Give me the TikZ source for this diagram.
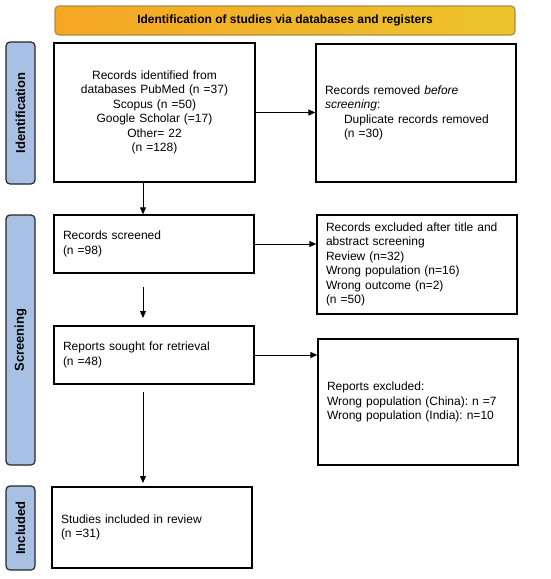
\documentclass[tikz,border=0pt]{standalone}
\usepackage{fontspec}
\setmainfont{Liberation Sans}
\usetikzlibrary{arrows.meta}
\definecolor{bannerL}{HTML}{F6A624}
\definecolor{bannerR}{HTML}{ECC42C}
\definecolor{bannerD}{HTML}{A88F45}
\definecolor{sideblue}{HTML}{A7C0E4}
\tikzset{
  box/.style={draw=black, line width=1.3pt, rectangle, inner xsep=9pt, inner ysep=0pt,
    font=\frenchspacing\fontsize{12}{14.5}\selectfont},
  lbox/.style={box, align=left},
  side/.style={draw=black!85, line width=1.2pt, fill=sideblue, rounded corners=4pt,
    minimum height=29pt, rotate=90, inner sep=0pt},
  sidetext/.style={rotate=90, font=\bfseries\fontsize{13}{15}\selectfont},
  arr/.style={-{Triangle[length=7pt,width=6pt]}, line width=0.9pt, black},
}
\begin{document}
\begin{tikzpicture}[x=1pt,y=-1pt]
\useasboundingbox (0,0) rectangle (550,579);
% banner
\node[draw=bannerD, line width=1.2pt, left color=bannerL, right color=bannerR, rounded corners=4pt,
  minimum width=460pt, minimum height=29pt, font=\bfseries\fontsize{12}{14}\selectfont] (banner) at (285,20.5)
  {Identification of studies via databases and registers};
% side labels
\node[side, minimum width=142pt] (lid) at (20.5,113) {};
\node[sidetext] (lidt) at (20.5,113) {Identification};
\node[side, minimum width=250pt] (lsc) at (20.5,340) {};
\node[sidetext] (lsct) at (20.5,340) {Screening};
\node[side, minimum width=84pt] (lin) at (20.5,528) {};
\node[sidetext] (lint) at (20.5,528) {Included};
% boxes
\node[box, align=center, minimum width=201pt, minimum height=139pt, text width=183pt] (b1) at (154.5,112.5)
  {Records identified from\\ databases PubMed (n =37)\\ Scopus (n =50)\\ Google Scholar (=17)\\ Other= 22\\ (n =128)};
\node[lbox, minimum width=200pt, minimum height=138pt, text width=182pt] (b2) at (416,113)
  {Records removed \textit{before}\\ \textit{screening}:\\ \hspace*{19pt}Duplicate records removed\\ \hspace*{19pt}(n =30)};
\node[lbox, minimum width=200pt, minimum height=58pt, text width=182pt] (scr) at (154,244)
  {Records screened\\ (n =98)};
\node[lbox, minimum width=200pt, minimum height=99pt, text width=182pt] (exc) at (417,264.5)
  {Records excluded after title and\\ abstract screening\\ Review (n=32)\\ Wrong population (n=16)\\ Wrong outcome (n=2)\\ (n =50)};
\node[lbox, minimum width=200pt, minimum height=58pt, text width=182pt] (rep) at (154,355)
  {Reports sought for retrieval\\ (n =48)};
\node[lbox, minimum width=200pt, minimum height=126pt, text width=182pt] (exc2) at (418,402)
  {Reports excluded:\\ Wrong population (China): n =7\\ Wrong population (India): n=10};
\node[lbox, minimum width=200pt, minimum height=81pt, text width=182pt] (stu) at (152,527.5)
  {Studies included in review\\ (n =31)};
% connectors
\draw[arr] (b1.east) -- (b1.east -| b2.west);
\draw[arr] (scr.east) -- (scr.east -| exc.west);
\draw[arr] (rep.east) -- (rep.east -| exc2.west);
\coordinate (d1) at (143,182);
\draw[arr] (d1) -- (d1 |- scr.north);
\coordinate (d2a) at (143,287);
\coordinate (d2b) at (143,318);
\draw[arr] (d2a) -- (d2b);
\coordinate (d3a) at (143,392);
\coordinate (d3b) at (143,483);
\draw[arr] (d3a) -- (d3b);
\end{tikzpicture}
\end{document}
